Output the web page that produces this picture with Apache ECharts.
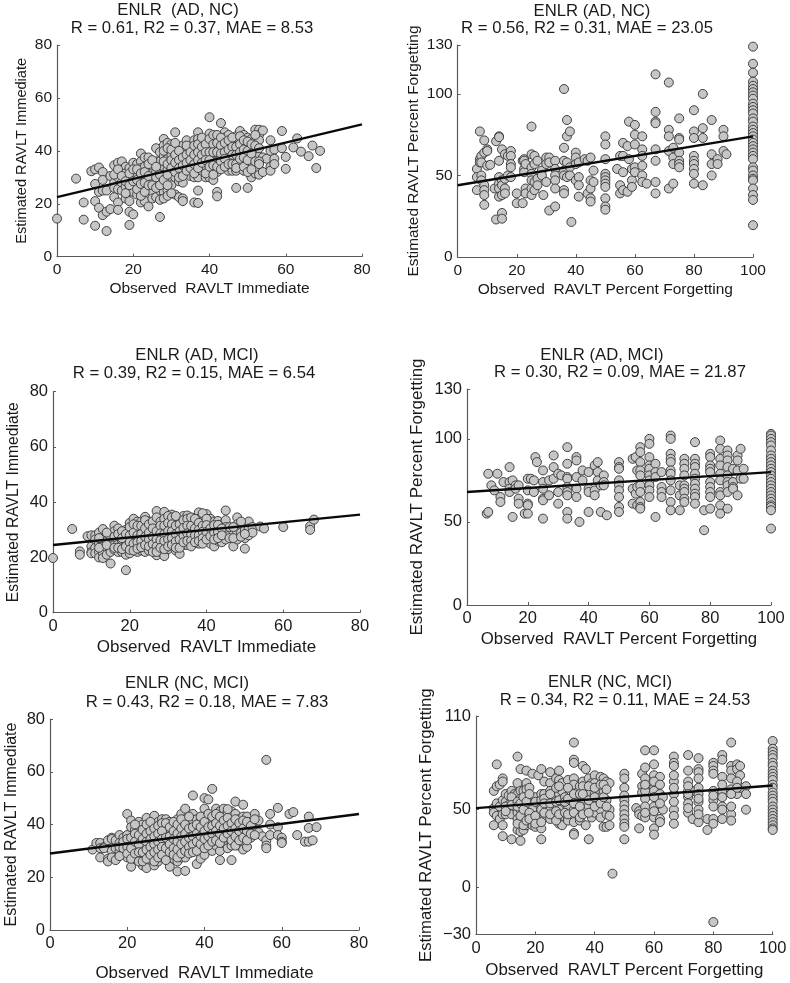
<!DOCTYPE html>
<html><head><meta charset="utf-8">
<style>html,body{margin:0;padding:0;background:#fff}#c{width:790px;height:983px;filter:blur(0.45px)}</style>
<script src="https://cdn.jsdelivr.net/npm/echarts@6/dist/echarts.min.js"></script>
</head><body><div id="c"></div>
<script>
// Values: each entry is [observed, [estimated values at that observed score]]
const immAdNc = [[0,[14.4]],[5,[29.5]],[7,[20.5,14]],[9,[32.3]],[10,[33,27.5,21,11.7]],[11,[33.7,24.5,18.5]],[12,[32,29,25,15.7]],[13,[25,17,9.7]],[14,[30.5,18]],[15,[34.5,28,26,22.5]],[16,[35.5,30,25.5,20.5,17.7]],[17,[36,33,28,25]],[18,[34,31.5,26.5,22]],[19,[33.5,29.5,25,21,17,12]],[20,[35.5,30,27,24.5,16]],[21,[35,31,27.5,23.5]],[22,[39,36,33.5,29.5,25.5,20.5]],[23,[37.5,34,30.5,26,23,21]],[24,[37.5,32.5,28.5,25.5,19]],[25,[34.5,31.5,29,24.5,22]],[26,[41,36,32,28,22.5]],[27,[39.5,36,33,29,25,21.5,15]],[28,[44.5,42,38,34,31,27.5,24.5,22]],[29,[43,39,37,33,29,25,23]],[30,[42.5,38.5,35,32,29.5,27]],[31,[47,40,37,34,30,23.5]],[32,[41,38,35,32,28.5,22.5]],[33,[42,39,36,33,28,22,21]],[34,[44,40,37,34,31.5]],[35,[41,38,35,32,30.5]],[36,[44,40,37,33.5,30,20.5]],[37,[47,44.5,41,38,35,32,30,25,20.3]],[38,[43,40,37,34,32.5]],[39,[44,41,38,35,33,30]],[40,[52.7,46.5,43,41,38,35.5,33,30]],[41,[44,41,38.5,36,33,29]],[42,[44,41.5,38,36,32,24.5,22.8]],[43,[50.5,43,40.5,37.5,35]],[44,[47,45,41,38,36]],[45,[46,42,39,37,33,32.5]],[46,[43,40,37,33,32.5]],[47,[45.5,43,40,37,32.5,26]],[48,[47.5,44,41,38,35.5]],[49,[46,42,39,36,32.5]],[50,[45,42,38,35,26]],[51,[44.5,41,37.5,35.5,30]],[52,[48,44,40,38,33,31.5]],[53,[48,46,44,38,33,31]],[54,[47.7,37.5,32]],[55,[37]],[56,[44,40,34,32.5]],[57,[40.5,37,35]],[59,[47.5,41]],[60,[37.7,33.2]],[62,[41.3]],[63,[44.7]],[64,[39.7]],[66,[38]],[67,[42]],[68,[33.5]],[69,[40]]];
const immAdNcMore = [[15,[31]],[16,[33]],[17,[30.5]],[18,[28.5,24]],[19,[27,31.5]],[20,[33,28.5]],[21,[33,29,25.5]],[22,[31.5,27.5,23]],[23,[32,28,24.5]],[24,[35,30.5,27]],[25,[36.5,27]],[26,[34,30,26]],[27,[31,27]],[28,[40,36,29]],[29,[41,35,31,27]],[30,[40.5,36.5,33.5,24]],[31,[43,38.5,35.5,32]],[32,[40,36.5,33.5,30]],[33,[37.5,34.5,30.5]],[34,[42,38.5,35.5,32.5]],[35,[39.5,36.5,33.5]],[36,[42,38.5,35,31.5]],[37,[42.5,39.5,36.5,33.5]],[38,[45,41.5,38.5,35.5]],[39,[42.5,39.5,36.5,31.5]],[40,[44.5,39.5,36.5,34]],[41,[46,42.5,39.5,34.5,31]],[42,[46,43,39.5,34]],[43,[45,42,39,36,33]],[44,[43,39.5,37,34]],[45,[44,40.5,35]],[46,[45,41.5,38.5,35]],[47,[41.5,38.5,35,33.5]],[48,[45.5,42.5,39.5,37]],[49,[44,40.5,37.5,34]],[50,[43.5,40,36.5,32]],[51,[42.5,39,33]],[52,[46,42,36]],[53,[41,36,35]]];
const pctAdNc = [[6.5,[54,49,41]],[7.5,[77,60,58]],[8,[62,58,50,47]],[9,[71.5,64,44,41,38,32]],[10,[66,65,56]],[11,[56.5]],[12.5,[42]],[13,[71,23]],[14,[74,73.5,59,49,45,42,37]],[15,[66,47,44,38,27,23.5]],[16,[63,48,42,39]],[17,[62,50]],[18,[65,62,57,55,49]],[20,[39,33]],[22,[59,33]],[22.5,[60,59,54,52]],[23,[57,42,39]],[25,[80,63,55,51,47,42,38]],[26,[62,57,46,41]],[27,[59,48,44]],[28.5,[53,50]],[29,[38]],[30,[61,57,46]],[31,[61,58,28.5]],[33,[59,54,50,47,42,31]],[36,[103,67,59,53,50,41,39]],[37,[84,74,58,49]],[38,[77,55,50]],[38.5,[21.5]],[40,[64,61,57,47]],[41,[58,49,44,37]],[43,[60]],[44,[59,39]],[45,[61,47,42,36,34]],[46,[53,46]],[50,[74,69,60,51,49,47,45,43,36,31,29]],[54,[54]],[55,[62,44,39]],[56,[70,62,52,41]],[57.5,[68,40]],[58,[83,60]],[59,[54,47,43]],[60,[81,75,69,55,52]],[62.5,[74,66,62,56,50,46]],[64,[45]],[67,[112,89,83,82,66,59,46,39]],[71.5,[107,78,74,65,42]],[73,[67,61,57,45]],[75,[85,73,72,64,59,57,55]],[80,[90,77,73,62,59,57,54,51,45]],[83,[100,79,73,44]],[86,[84,63,57,50]],[88,[60,57]],[90,[78,74,65]],[91,[63]],[100,[129,118.5,113,107.5,105,103,101,99,97,94,92,90,88,85,83,80,78,76,74,72,70,68,66,64,62,60,55,53,50,48,47,42,38,35,19.5]]];
const pctAdNcMore = [];
const immAdMci = [[0,[19.8]],[5,[30.3]],[7,[22.2,21]],[9,[27.7]],[10,[28,24,22,21.5]],[11,[28,26.5,23.5,21.5]],[12,[29,25,22,20]],[13,[30.3,27,24,21.5,19.8]],[14,[28,26,23.5,21]],[15,[27,24.5,22,17.8]],[16,[31.5,29.5,26,24.5,22.8]],[17,[30.5,27,25,22]],[18,[28,26,24.5,22]],[19,[30,27.5,25.5,22,21,15.4]],[20,[32.5,29.5,27,24,21.5]],[21,[34,30,27.5,26,23.5]],[22,[33,29.5,27,24.5,22]],[23,[33,30,27,25,22.5]],[24,[34.7,32,29,26,22]],[25,[33,30.5,28,25,22.5]],[26,[32,29,26,23.5]],[27,[36.8,33,31,28,25,23,20.8]],[28,[30,27.5,25,22]],[29,[36.5,33,30,27.5,25,21.5,20.5]],[30,[34,31,28,25.5,23]],[31,[35.5,33.5,31,28,26]],[32,[33,30,27,24.5,22.5]],[33,[33.5,31,28,25,21.3]],[34,[35,32,29.5,26.5,24.5]],[35,[35.2,33,30,27.5,24.5]],[36,[33,30,27,25]],[37,[32,29,27]],[38,[36.3,34,31,29,27,25]],[39,[35,33,30,28.5]],[40,[35.7,33,30.5,28]],[41,[34,32.3,29,26.5,25]],[42,[33,30.5,28,24]],[43,[33.2,30.5,28,26]],[44,[32,29,27,25.5]],[45,[37,33.5,31,28,26.5]],[46,[29.5,28]],[47,[29.5,24]],[48,[34.5,32,29,26.5]],[49,[31.5,29]],[50,[30,27,23.2]],[51,[33,30.5,28]],[52,[31,29]],[54,[31.2]],[55,[30.5]],[60,[31]],[67,[31.3,30]],[68,[33.7]]];
const immAdMciMore = [[12,[27,23.5]],[14,[24.5,29]],[16,[27.5,23.5]],[17,[28.5,23.5]],[18,[29.5,27,23]],[19,[28.5,24]],[20,[31,28,25.5,22.8]],[21,[32,29,25,22.5]],[22,[31.5,28,25.5,23.2]],[23,[31.5,28.5,26,23.7]],[24,[33.5,30.5,27.5,24.5]],[25,[32,29,26.5,24]],[26,[33,30.5,27.5,24.8,22]],[27,[34.5,29.5,26.5,24,22]],[28,[33,31.5,28.7,26.2,23.5]],[29,[34,31.5,28.5,26,23]],[30,[35,32.5,29.5,26.5,24]],[31,[34.5,32,29.5,27,24.5]],[32,[35,31.5,28.5,25.8,23.5]],[33,[32,29.5,26.5,23.5]],[34,[33.5,30.7,28,25.5]],[35,[34,31.5,28.7,26]],[36,[34.5,31.5,28.5,26,24]],[37,[34,30.5,28,25.5]],[38,[32.5,30,28,26]],[39,[36,31.5,29.3,27,25]],[40,[34,31.7,29.3,26.5]],[41,[30.5,27.7]],[42,[31.7,29,26.5]],[43,[31.8,29.3,27]],[44,[30.5,28]],[46,[31,27]],[47,[31,27]],[49,[33,27.5]],[50,[28.5]]];
const pctAdMci = [[6.5,[55]],[7,[79,56]],[8,[72]],[9,[69]],[10,[79]],[11,[65,62]],[12,[74]],[14,[83,74,70,68]],[15,[75,53]],[16,[72,70]],[17,[72,64,61]],[19,[55]],[20,[76,69,61,60,55]],[21,[76]],[22,[75,68]],[22.5,[89]],[23,[86]],[25,[81,74,70,64,63,52]],[27,[75,66]],[28.5,[90,83,76]],[30,[79,68,61]],[31,[78]],[33,[95,85,77,76,71,68,66,56,52]],[36,[89,87,77,70,65]],[37,[50]],[38,[81,75]],[40,[80,70,68,56]],[42,[84,69,66]],[43,[86,80,75]],[44,[72,56]],[45,[78,74,72]],[46,[54]],[50,[86,83,82,75,72,69,65,59,56]],[54.5,[88,70,61]],[55.5,[89,67]],[56,[81,71,60]],[57,[95,92,86,81,78,72,68,62,59,58]],[60,[100,97,89,84,82,78,75,72,69,65]],[62,[85,80,77,53]],[64,[80,71,68,65]],[67,[102,100,91,88,86,81,79,75,69,62,57]],[70,[72,66,57]],[71.5,[88,85,82,78,72,70,68,64,62]],[75,[98,88,85,83,79,76,73,70,67,65,61]],[78,[57,45]],[80,[91,89,84,82,80,74,71,68,65,58]],[83.3,[99,94,88,84,79,75,68,66,60,55]],[85.7,[93,90,87,83,78,74,72,68,58]],[87.5,[82,74,71,70]],[89,[90,87,81,66]],[90,[94,76]],[91,[82,76]],[100,[103,102,100,98,96,93,90,88,86,84,82,80,78,76,74,72,70,68,66,64,62,60,59,57,46]]];
const pctAdMciMore = [];
const immNcMci = [[11,[30.5]],[12,[33]],[13,[33,31,27.5]],[14,[31.5,31]],[15,[34,27,26]],[16,[35,34.5,30,27.5]],[17,[34,31,26.5]],[18,[36,33,30]],[19,[35,32,29.5,28.5]],[20,[44,36,33,30,27.5]],[21,[41.5,39,33,29,24]],[22,[38,35,32,30,27]],[23,[41,38,34,31,28]],[24,[40,36,33,31,28,24.5]],[25,[42.5,38,35,32,29,23.5]],[26,[39,36,33,30,27]],[27,[43.3,40,37,34,31,28,24.5]],[28,[41,38,35,32,29,26]],[29,[42,39,36,33,30,27.5]],[30,[42,39,37,33,29,28]],[31,[41,37,34,31,28,24]],[32,[39,36,33,29.5,27]],[33,[42,38,35,32,29,26,22.2]],[34,[44,40,37,34,31,27.5]],[35,[46,42,38,35,32,28,27.5,22.4]],[36,[40,37,33]],[37,[51,44,41,37,34,31]],[38,[42,38,35,32,25]],[39,[41,37,34,31,27]],[40,[50,46,43,39,36,33,29.5,28.5]],[41,[49.5,41,37,34]],[42,[53.5,41,38,35,32,30]],[43,[46,42,39,36,32]],[44,[45,41,38,35,30,26.5]],[45,[46,43,40,37,33]],[46,[44,41,38,35,31]],[47,[45,42,39,36,32,26.5]],[48,[48.7,44,40,37,34]],[49,[42,39,36,32]],[50,[47.5,43,40,37,33,30.5]],[51,[43,39,36,31.5]],[52,[41,38,35]],[53,[44,40,38]],[54,[41.5,37]],[55,[35.5]],[56,[64.5,34,32,31]],[57,[44,40,36]],[59,[46.3,39,36]],[60,[35,33.5,33]],[62,[44]],[63,[44.7]],[64,[36]],[66,[33.5]],[67,[43,38.7,33.5]],[68,[34]],[69,[39]]];
const immNcMciMore = [[18,[31.5,28]],[19,[33.5,31]],[20,[34.5,31.5,29]],[21,[35,31,27]],[22,[40,36.5,33.5,29]],[23,[36,32.5,29.5,26]],[24,[38,34.5,29.5,26]],[25,[40,36.5,33.5,30.5,27]],[26,[41,37.5,34.5,31.5,28.5]],[27,[38.5,35.5,32.5,29.5,26]],[28,[39.5,36.5,33.5,30.5,27.5]],[29,[40.5,37.5,34.5,31.5,28.5]],[30,[40.5,35,31,26.5]],[31,[39,35.5,32.5,29.5]],[32,[41,37.5,34.5,31,28.5]],[33,[40,36.5,33.5,30.5,27.5]],[34,[42,38.5,35.5,32.5,29]],[35,[40,36.5,33.5,30]],[36,[43,38.5,35,31.5,29]],[37,[39,35.5,32.5,29.5]],[38,[40,36.5,33.5,30]],[39,[43,39,35.5,32.5]],[40,[41,37.5,34.5,31]],[41,[44,39,35.5,32]],[42,[43,39.5,36.5,33.5]],[43,[44,40.5,37.5,34]],[44,[43,39.5,36.5,33]],[45,[41.5,38.5,35]],[46,[45.8,42.5,39.5,36.5]],[47,[40.5,37.5,34]],[48,[42,38.5,35.5,32]],[49,[40.5,37.5,34]],[50,[41.5,38.5,35]],[51,[41,37.5,34]],[52,[39.5,36.5]],[53,[42,36]]];
const pctNcMci = [[6,[62,51,48,40]],[7,[79,65,54,46]],[8,[66,52,44]],[9,[70,68,56,47,40,33]],[10,[60,55,47]],[11,[59,53]],[12,[62,47,31]],[13,[60,55,52]],[14,[84,67,60,48,44,37]],[15,[76,62,57,50,42,36,30]],[16,[62,55,44,37]],[17,[75,67,63,58,52,47,40]],[18,[64,56]],[19,[73,50,41,40]],[20,[58,39]],[21,[72,55]],[22,[76,60,53,47,44,38,31]],[23,[68,60,51,45]],[25,[74,67,62,57,50,44]],[27,[70,58,52,46]],[28,[75,69,60,50,44,41]],[29,[67,62,40]],[31,[69,52,43]],[33,[93,82,80,70,66,57,50,46,42,35,34]],[35,[65,55,47,43]],[36,[78,68,57,50]],[37,[76,62,40]],[38,[70,60,52,31]],[39,[67,56,45]],[40,[72,67,60,55,48]],[42,[71,62,58,50,45]],[43,[70,62,54,39]],[44,[68,56,47,39]],[45,[67,50,46,40]],[46,[9]],[50,[73,70,64,59,56,53,50,47,44,41,39,31]],[54,[51]],[55,[49,47,38]],[56,[73,65,61,46]],[57,[88,77,70,62,57,52,45]],[60,[88,79,72,64,62,52,45,38,34]],[62,[71,60,44,42]],[63,[58,50]],[66.7,[84,80,78,68,60,50,46,41]],[71.5,[85,75,68,62,58,54,48]],[73,[62,44]],[75,[83,76,74,70,64,60,55,50,42]],[78,[44,37]],[80,[80,78,75,62,56,44,41,-22]],[83,[85,82,71,62,52,50,44]],[86,[93,78,75,63,47,43]],[88,[79,76,60]],[89,[78,72,64]],[91,[65,60,50]],[100,[94,89,87,85,83,80,78,75,73,71,69,66,64,61,59,57,55,52,50,48,46,44,42,40,38,37]]];
const pctNcMciMore = [[10,[52,49]],[12,[58,53]],[14,[55,52,41]],[15,[54,46]],[16,[58,50,40]],[17,[55,43]],[18,[60,48,44]],[20,[55,46,41]],[22,[56,50,42]],[23,[57,54,48]],[25,[60,54,47]],[27,[64,55,49,43]],[28,[65,56,47]],[30,[58,55,48]],[31,[64,57,47]],[33,[60,54,48]],[35,[60,52,45]],[36,[65,60,47]],[38,[65,56,48]],[40,[64,58,52]],[42,[66,54]],[43,[66,58]],[44,[63,52]],[57,[66,48]],[60,[68,58,49]],[62,[66,54]],[66.7,[72,64,55]],[71.5,[65,60,51]],[75,[57,47]],[80,[73,59,52]],[83,[66,58]],[86,[70,60,52]],[88,[68,64]]];

// Fitted lines: [[x0,y0],[x1,y1]]
const fitImmAdNc = [[0,22.5],[80,50]];
const fitPctAdNc = [[0,44],[100,74]];
const fitImmAdMci = [[0,24.5],[80,35.5]];
const fitPctAdMci = [[0,68],[100,80]];
const fitImmNcMci = [[0,29],[80,44]];
const fitPctNcMci = [[0,51],[100,65.5]];

const xImm = [0,20,40,60,80], xPct = [0,20,40,60,80,100];
const yImm = [0,20,40,60,80], yPct = [0,50,100,130], yPctWide = [-30,0,50,100,110];
const nameX = ['Observed  RAVLT Immediate','Observed  RAVLT Percent Forgetting'];
const nameY = ['Estimated RAVLT Immediate','Estimated RAVLT Percent Forgetting'];

const panels = [
 {pts:immAdNc.concat(immAdNcMore),fit:fitImmAdNc,xt:xImm,yt:yImm,xn:0,t1:'ENLR  (AD, NC)',t2:'R = 0.61, R2 = 0.37, MAE = 8.53',c1:[178,10],c2:[192,28],box:[57,362,45,256.7],yGap:28,xGap:24,tick:15.5,fx:15.5,fy:14.6},
 {pts:pctAdNc.concat(pctAdNcMore),fit:fitPctAdNc,xt:xPct,yt:yPct,xn:1,t1:'ENLR (AD, NC)',t2:'R = 0.56, R2 = 0.31, MAE = 23.05',c1:[592,11],c2:[587,28],box:[457.7,753,45,257],yGap:36,xGap:25,tick:15.5,fx:15.5,fy:15.4},
 {pts:immAdMci.concat(immAdMciMore),fit:fitImmAdMci,xt:xImm,yt:yImm,xn:0,t1:'ENLR (AD, MCI)',t2:'R = 0.39, R2 = 0.15, MAE = 6.54',c1:[197,355],c2:[194,373],box:[53,360,391.7,612.7],yGap:31,xGap:26,tick:16.5,fx:17,fy:15.7},
 {pts:pctAdMci.concat(pctAdMciMore),fit:fitPctAdMci,xt:xPct,yt:yPct,xn:1,t1:'ENLR (AD, MCI)',t2:'R = 0.30, R2 = 0.09, MAE = 21.87',c1:[602,355],c2:[620,372],box:[467,771,389,605],yGap:41,xGap:26,tick:16.5,fx:16.8,fy:17},
 {pts:immNcMci.concat(immNcMciMore),fit:fitImmNcMci,xt:xImm,yt:yImm,xn:0,t1:'ENLR (NC, MCI)',t2:'R = 0.43, R2 = 0.18, MAE = 7.83',c1:[187,683],c2:[207,702],box:[50,359,719,941.7],yGap:30,xGap:35,tick:16.5,fx:16.9,fy:16},
 {pts:pctNcMci.concat(pctNcMciMore),fit:fitPctNcMci,xt:xPct,yt:yPctWide,xn:1,t1:'ENLR (NC, MCI)',t2:'R = 0.34, R2 = 0.11, MAE = 24.53',c1:[610,682],c2:[625,700],box:[476,772.7,716,934.5],yGap:41,xGap:27,tick:16.5,fx:16.9,fy:16.8}
];

const FONT = '"Liberation Sans", Arial, sans-serif';
const W = 790, H = 983;
const opt = {animation:false, backgroundColor:'#fff', title:[], grid:[], xAxis:[], yAxis:[], series:[]};
panels.forEach((p,i)=>{
  const [l,r,t,b] = p.box;
  opt.grid.push({left:l,right:W-r,top:t,bottom:H-b,containLabel:false});
  [[p.t1,p.c1],[p.t2,p.c2]].forEach(([text,c])=>opt.title.push({text,left:c[0],top:c[1],textAlign:'center',textVerticalAlign:'middle',padding:0,textStyle:{fontFamily:FONT,fontSize:16.7,fontWeight:'normal',color:'#1a1a1a'}}));
  const lineS = {show:true,onZero:false,lineStyle:{color:'#5a5a5a',width:1.2}};
  const tick = vals=>({show:true,inside:true,length:3,customValues:vals,lineStyle:{color:'#5a5a5a',width:1}});
  const lab = (vals,m)=>({show:true,customValues:vals,margin:m,hideOverlap:false,showMinLabel:true,showMaxLabel:true,lineHeight:11,fontFamily:FONT,fontSize:p.tick,color:'#1a1a1a',formatter:v=>String(v).replace('-','\u2212')});
  opt.xAxis.push({type:'value',gridIndex:i,min:p.xt[0],max:p.xt[p.xt.length-1],splitLine:{show:false},axisLine:lineS,axisTick:tick(p.xt),axisLabel:lab(p.xt,8),
    name:nameX[p.xn],nameLocation:'middle',nameGap:p.xGap,nameTextStyle:{fontFamily:FONT,fontSize:p.fx,color:'#1a1a1a'}});
  opt.yAxis.push({type:'value',gridIndex:i,min:p.yt[0],max:p.yt[p.yt.length-1],splitLine:{show:false},axisLine:lineS,axisTick:tick(p.yt),axisLabel:lab(p.yt,5),
    name:nameY[p.xn],nameLocation:'middle',nameGap:p.yGap,nameTextStyle:{fontFamily:FONT,fontSize:p.fy,color:'#1a1a1a'}});
  const data=[]; p.pts.forEach(([x,ys])=>ys.forEach(y=>data.push([x,y])));
  opt.series.push({type:'scatter',xAxisIndex:i,yAxisIndex:i,data,symbol:'circle',symbolSize:9,clip:false,itemStyle:{color:'#c6c6c6',borderColor:'#404040',borderWidth:1,opacity:1},z:2});
  opt.series.push({type:'line',xAxisIndex:i,yAxisIndex:i,data:p.fit,showSymbol:false,symbol:'none',clip:false,lineStyle:{color:'#0a0a0a',width:2.4},z:3});
});
echarts.init(document.getElementById('c'),null,{renderer:'canvas'}).setOption(opt);
</script></body></html>
